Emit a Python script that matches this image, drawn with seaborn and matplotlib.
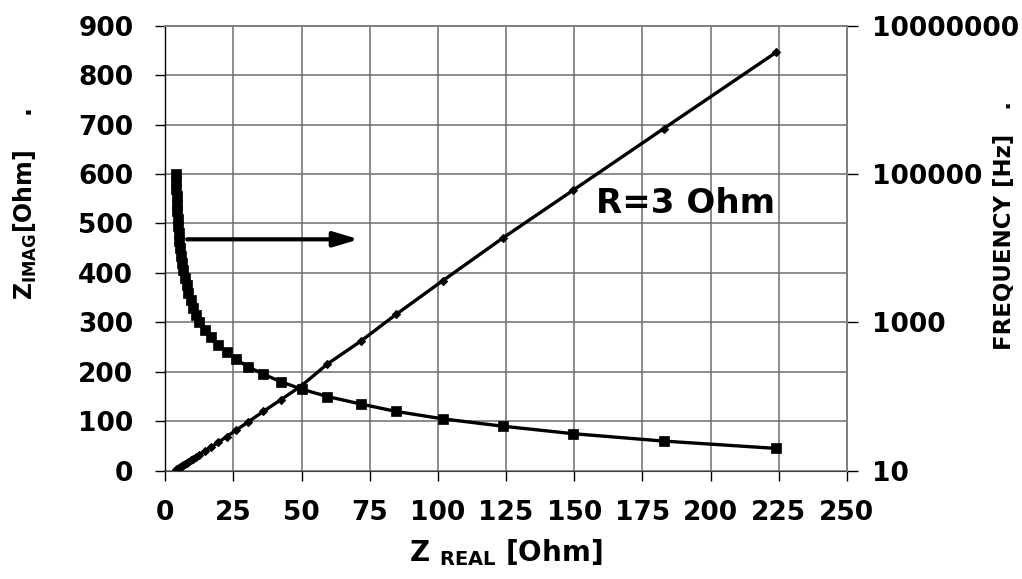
import numpy as np
import pandas as pd
import seaborn as sns
import matplotlib.pyplot as plt
from matplotlib.ticker import FuncFormatter, NullLocator

freq_hz = [100000, 79400, 63100, 50100, 39800, 31600, 25100, 20000, 15800, 12600,
           10000, 7940, 6310, 5010, 3980, 3160, 2510, 2000, 1580, 1260,
           1000, 794, 631, 501, 398, 316, 251, 200, 158, 126,
           100, 79.4, 63.1, 50.1, 39.8, 31.6, 25.1, 20.0]
z_real = [4.0, 4.05, 4.1, 4.2, 4.3, 4.4, 4.55, 4.7, 4.9, 5.15,
          5.4, 5.75, 6.15, 6.6, 7.15, 7.8, 8.5, 9.3, 10.2, 11.2,
          12.4, 14.4, 16.8, 19.5, 22.5, 26.0, 30.5, 36.0, 42.5, 50.0,
          59.5, 71.7, 84.6, 101.7, 123.9, 149.5, 182.8, 224.0]
z_imag = [1.5, 1.7, 1.9, 2.3, 2.6, 3.0, 3.5, 4.1, 4.8, 5.7,
          6.7, 8.0, 9.4, 11.1, 13.1, 15.5, 18.1, 21.1, 24.4, 28.1,
          32.0, 39.5, 48.0, 57.5, 69.0, 82.0, 99.0, 120.0, 144.0, 172.0,
          216.0, 262.0, 316.0, 384.0, 471.0, 567.0, 692.0, 846.0]

x_ticks = [0, 25, 50, 75, 100, 125, 150, 175, 200, 225, 250]
y_ticks = [0, 100, 200, 300, 400, 500, 600, 700, 800, 900]
freq_ticks = [10, 1000, 100000, 10000000]

df = pd.DataFrame({'z_real': z_real, 'z_imag': z_imag, 'freq': freq_hz})

sns.set_style('white')
plt.rcParams['font.family'] = ['DejaVu Sans']
plt.rcParams['font.weight'] = 'bold'
plt.rcParams['mathtext.fontset'] = 'dejavusans'
for key in ('text.color', 'axes.labelcolor', 'xtick.color', 'ytick.color'):
    plt.rcParams[key] = 'black'

fig = plt.figure(figsize=(10.22, 5.79), dpi=100)
ax = fig.add_axes([0.1617, 0.187, 0.667, 0.7686])
ax2 = ax.twinx()

# impedance curve (left axis)
sns.lineplot(data=df, x='z_real', y='z_imag', ax=ax, sort=False, color='black',
             linewidth=2.4, marker='D', markersize=4.5, markeredgewidth=0.8,
             markeredgecolor='black', estimator=None)
# frequency curve (right axis, log)
sns.lineplot(data=df, x='z_real', y='freq', ax=ax2, sort=False, color='black',
             linewidth=2.4, marker='s', markersize=6.5, markeredgewidth=0.5,
             markeredgecolor='black', estimator=None)

ax.set_xlim(0, 250)
ax.set_ylim(0, 900)
ax.set_xticks(x_ticks)
ax.set_yticks(y_ticks)
ax2.set_yscale('log')
ax2.set_ylim(10, 1e7)
ax2.set_yticks(freq_ticks)
ax2.yaxis.set_minor_locator(NullLocator())
ax2.yaxis.set_major_formatter(FuncFormatter(lambda v, _: f'{v:.0f}'))

ax.grid(True, color='#6e6e6e', linewidth=1.1)
ax.set_axisbelow(True)

for a in (ax, ax2):
    for side in ('top', 'right'):
        a.spines[side].set_color('#808080')
        a.spines[side].set_linewidth(1.4)
    a.spines['left'].set_color('black')
    a.spines['bottom'].set_color('#404040')
    a.spines['left'].set_linewidth(1.0)
ax2.spines['left'].set_visible(False)
ax2.spines['bottom'].set_visible(False)

ax.tick_params(axis='both', direction='out', length=7, width=1, color='black',
               labelsize=19, bottom=True, left=True)
ax.tick_params(axis='x', pad=14)
ax.tick_params(axis='y', pad=16)
ax2.tick_params(axis='y', direction='out', length=8, width=1, color='black',
                labelsize=19, right=True, pad=10)
for lab in ax.get_xticklabels() + ax.get_yticklabels() + ax2.get_yticklabels():
    lab.set_fontweight('bold')

ax.set_xlabel(r'Z $_{\mathbf{REAL}}$ [Ohm]', fontsize=20, fontweight='bold')
ax.xaxis.set_label_coords(0.5, -0.15)
ax.set_ylabel(r'Z$_{\mathbf{IMAG}}$[Ohm]    .', fontsize=17, fontweight='bold')
ax.yaxis.set_label_coords(-0.185, 0.6)
ax2.set_ylabel('FREQUENCY [Hz]   .', fontsize=16.5, fontweight='bold')
ax2.yaxis.set_label_coords(1.215, 0.55)

# arrow pointing to the right axis and the resistance note
ax.annotate('', xy=(71, 468), xytext=(8, 468),
            arrowprops=dict(arrowstyle='-|>,head_length=1.5,head_width=0.45',
                            color='black', lw=3, shrinkA=0, shrinkB=0))
ax.text(158, 540, 'R=3 Ohm', fontsize=24.5, fontweight='bold', va='center', ha='left')

fig.savefig('out.png', dpi=100)
